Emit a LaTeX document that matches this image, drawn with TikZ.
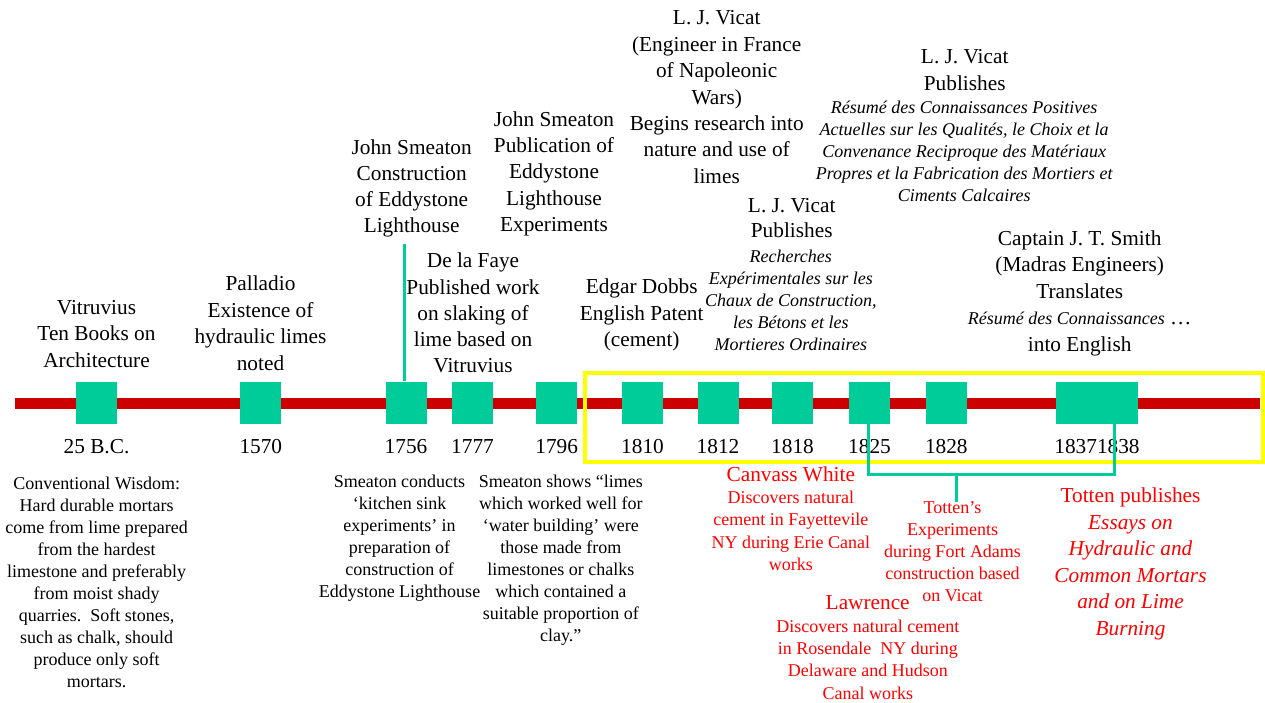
\documentclass[tikz,border=0pt]{standalone}
\usepackage{fontspec}
\setmainfont{Liberation Serif}
\definecolor{tgreen}{HTML}{00CC99}
\definecolor{barred}{HTML}{CC0000}
\definecolor{txtred}{HTML}{FF0000}
\definecolor{frameyellow}{HTML}{FFFF00}
\tikzset{
  bigtxt/.style={font=\fontsize{21.3}{#1}\selectfont, align=center, inner sep=0pt, anchor=north},
  bigtxt/.default=26.5,
  smtxt/.style={font=\fontsize{18}{#1}\selectfont, align=center, inner sep=0pt, anchor=north},
  smtxt/.default=22,
  smit/.style={font=\fontsize{18}{#1}\selectfont\itshape, align=center, inner sep=0pt, anchor=north},
  smit/.default=21.7,
  yeartxt/.style={font=\fontsize{21.3}{26.5}\selectfont, inner sep=0pt, anchor=base},
  evbox/.style={fill=tgreen, draw=none, minimum width=41pt, minimum height=42pt, inner sep=0pt},
  timeline/.style={draw=barred, line width=11pt},
  gconn/.style={draw=tgreen, line width=3pt},
  redtxt/.style={text=txtred}
}
\begin{document}
\begin{tikzpicture}[x=1pt,y=-1pt]
\useasboundingbox (0,0) rectangle (1265,702);
% timeline bar
\coordinate (tlA) at (15,403.5);
\coordinate (tlB) at (1260,403.5);
\draw[timeline] (tlA) -- (tlB);
% event squares
\node[evbox] (s25) at (96.5,402.5) {};
\node[evbox] (s1570) at (260.5,402.5) {};
\node[evbox] (s1756) at (406.5,402.5) {};
\node[evbox] (s1777) at (472.5,402.5) {};
\node[evbox] (s1796) at (556.5,402.5) {};
\node[evbox] (s1810) at (642,402.5) {};
\node[evbox] (s1812) at (718.5,402.5) {};
\node[evbox] (s1818) at (792.5,402.5) {};
\node[evbox] (s1825) at (869.5,402.5) {};
\node[evbox] (s1828) at (946.5,402.5) {};
\node[evbox, minimum width=82pt] (s1837) at (1097,402.5) {};
% yellow frame
\draw[frameyellow, line width=4pt] (585,373) rectangle (1263,462);
% years
\node[yeartxt] (y25) at (96.5,453) {25 B.C.};
\node[yeartxt] (y1570) at (260.8,453) {1570};
\node[yeartxt] (y1756) at (406,453) {1756};
\node[yeartxt] (y1777) at (472.5,453) {1777};
\node[yeartxt] (y1796) at (556.7,453) {1796};
\node[yeartxt] (y1810) at (642.5,453) {1810};
\node[yeartxt] (y1812) at (718,453) {1812};
\node[yeartxt] (y1818) at (792.5,453) {1818};
\node[yeartxt] (y1825) at (869.5,453) {1825};
\node[yeartxt] (y1828) at (946.3,453) {1828};
\node[yeartxt] (y1837) at (1097,453) {18371838};
% top labels
\node[bigtxt] (tVit) at (96.5,300) {Vitruvius\\Ten Books on\\Architecture};
\node[bigtxt] (tPal) at (260.5,276) {Palladio\\Existence of\\hydraulic limes\\noted};
\node[bigtxt=26] (tSmC) at (411.7,140) {John Smeaton\\Construction\\of Eddystone\\Lighthouse};
\node[bigtxt=26.2] (tFaye) at (473,253) {De la Faye\\Published work\\on slaking of\\lime based on\\Vitruvius};
\node[bigtxt=26.2] (tSmP) at (554,111.5) {John Smeaton\\Publication of\\Eddystone\\Lighthouse\\Experiments};
\node[bigtxt] (tDob) at (641.7,279) {Edgar Dobbs\\English Patent\\(cement)};
\node[bigtxt=26.4] (tVic1) at (716.7,10.5) {L. J. Vicat\\(Engineer in France\\of Napoleonic\\Wars)\\Begins research into\\nature and use of\\limes};
\node[bigtxt=25] (tVic2) at (791.7,198) {L. J. Vicat\\Publishes};
\node[smit=22] (tVic2b) at (790.8,249.5) {Recherches\\Expérimentales sur les\\Chaux de Construction,\\les Bétons et les\\Mortieres Ordinaires};
\node[bigtxt=26.7] (tVic3) at (964.7,49.5) {L. J. Vicat\\Publishes};
\node[smit=22.1] (tVic3b) at (964.2,100.5) {Résumé des Connaissances Positives\\Actuelles sur les Qualités, le Choix et la\\Convenance Reciproque des Matériaux\\Propres et la Fabrication des Mortiers et\\Ciments Calcaires};
\node[bigtxt=26.5] (tSmith) at (1079.7,230.5) {Captain J. T. Smith\\(Madras Engineers)\\Translates\\{\fontsize{18}{22}\selectfont\itshape Résumé des Connaissances} \ldots\\into English};
% green connectors
\coordinate (c1756top) at (404,244);
\draw[gconn] (s1756.north -| c1756top) -- (c1756top);
\coordinate (bkR) at (1114,474);
\coordinate (bkStem) at (956,474);
\draw[gconn] (s1825.south -| 868,0) |- (bkR) -- (bkR |- s1837.south);
% bottom descriptions
\node[smtxt=22] (dConv) at (96.7,476.7) {Conventional Wisdom:\\Hard durable mortars\\come from lime prepared\\from the hardest\\limestone and preferably\\from moist shady\\quarries.\ \ Soft stones,\\such as chalk, should\\produce only soft\\mortars.};
\node[smtxt=22] (dSmC) at (399.5,475) {Smeaton conducts\\‘kitchen sink\\experiments’ in\\preparation of\\construction of\\Eddystone Lighthouse};
\node[smtxt=22] (dSmS) at (560.8,475) {Smeaton shows “limes\\which worked well for\\‘water building’ were\\those made from\\limestones or chalks\\which contained a\\suitable proportion of\\clay.”};
\node[bigtxt, redtxt] (dCan) at (790.8,467) {Canvass White};
\node[smtxt=22.2, redtxt] (dCanb) at (790.8,491) {Discovers natural\\cement in Fayettevile\\NY during Erie Canal\\works};
\node[smtxt=22, redtxt] (dTotE) at (952.5,501.5) {Totten’s\\Experiments\\during Fort Adams\\construction based\\on Vicat};
\draw[gconn] (bkStem) -- (dTotE.north -| bkStem);
\node[bigtxt, redtxt] (dLaw) at (867.7,595) {Lawrence};
\node[smtxt=22.3, redtxt] (dLawb) at (867.8,619.5) {Discovers natural cement\\in Rosendale\ \ NY during\\Delaware and Hudson\\Canal works};
\node[bigtxt=26.6, redtxt] (dTotP) at (1130.5,487.5) {Totten publishes\\\itshape Essays on\\\itshape Hydraulic and\\\itshape Common Mortars\\\itshape and on Lime\\\itshape Burning};
\end{tikzpicture}
\end{document}
